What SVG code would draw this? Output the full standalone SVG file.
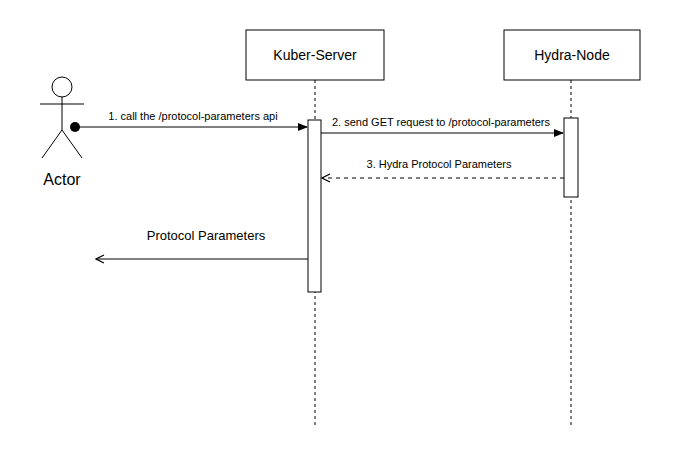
<svg xmlns="http://www.w3.org/2000/svg" width="679" height="452" viewBox="0 0 679 452">
<style>
text{font-family:"Liberation Sans",Arial,sans-serif;fill:#000}
.box{fill:#fff;stroke:#000;stroke-width:1}
.life{stroke:#000;stroke-dasharray:3,3;fill:none}
.ln{stroke:#000;stroke-width:1;fill:none}
.sm{font-size:11px;text-anchor:middle}
</style>
<defs>
<marker id="ar" markerWidth="10" markerHeight="8" refX="9" refY="4" orient="auto" markerUnits="userSpaceOnUse"><path d="M0,0 L10,4 L0,8 Z" fill="#000"/></marker>
<marker id="op" markerWidth="10" markerHeight="10" refX="9" refY="5" orient="auto" markerUnits="userSpaceOnUse"><path d="M1,1 L9,5 L1,9" fill="none" stroke="#000" stroke-width="1.2"/></marker>
</defs>
<rect width="679" height="452" fill="#fff"/>
<g id="actor">
<circle cx="62" cy="87" r="10" class="box"/>
<path class="ln" d="M62,97V130M40,104H84M62,130L42,158M62,130L82,158"/>
<text x="62" y="185" font-size="16" text-anchor="middle">Actor</text>
</g>
<g id="kuber">
<line class="life" x1="315" y1="80" x2="315" y2="425"/>
<rect class="box" x="246" y="30" width="138" height="50"/>
<text x="315" y="60" font-size="14" text-anchor="middle">Kuber-Server</text>
<rect class="box" x="308" y="120" width="13" height="172"/>
</g>
<g id="hydra">
<line class="life" x1="571" y1="80" x2="571" y2="425"/>
<rect class="box" x="504" y="30" width="136" height="50"/>
<text x="572" y="60" font-size="14" text-anchor="middle">Hydra-Node</text>
<rect class="box" x="564" y="118" width="14" height="79"/>
</g>
<g id="connectors">
<circle cx="75" cy="127" r="5" fill="#000"/>
<line class="ln" x1="75" y1="127" x2="307" y2="127" marker-end="url(#ar)"/>
<text class="sm" x="193" y="120">1. call the /protocol-parameters api</text>
<line class="ln" x1="321" y1="133" x2="563" y2="133" marker-end="url(#ar)"/>
<text class="sm" x="441" y="126">2. send GET request to /protocol-parameters</text>
<line class="ln" x1="564" y1="178" x2="322" y2="178" stroke-dasharray="4,4" marker-end="url(#op)"/>
<text class="sm" x="439" y="168">3. Hydra Protocol Parameters</text>
<line class="ln" x1="308" y1="259" x2="96" y2="259" marker-end="url(#op)"/>
<text x="206" y="240" font-size="13" text-anchor="middle">Protocol Parameters</text>
</g>
</svg>
